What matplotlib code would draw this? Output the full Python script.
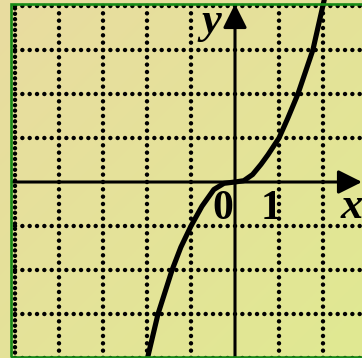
import numpy as np
import matplotlib
matplotlib.use("Agg")
import matplotlib.pyplot as plt
from matplotlib.patches import Rectangle

# grid positions (in units)
grid_x = [-5, -4, -3, -2, -1, 1, 2]
grid_y = [-4, -3, -2, -1, 1, 2, 3, 4]

# curve
curve_x = [-2.0, -1.75, -1.43, -1.23, -1.0, -0.75, -0.48, -0.25, 0.0,
           0.2, 0.4, 0.59, 0.75, 1.0, 1.2, 1.43, 1.77, 2.03]
curve_y = [-4.05, -3.0, -2.0, -1.48, -1.0, -0.55, -0.17, -0.03, 0.0,
           0.03, 0.17, 0.4, 0.62, 1.0, 1.45, 2.0, 3.0, 4.15]

tick_labels = {"0": (-0.27, -0.61), "1": (0.82, -0.61)}

# pixel layout: origin at (235, 182), 44 px per unit
W, H = 362, 358
ox, oy, unit = 235, 182, 44
xmin, xmax = -ox / unit, (W - ox) / unit
ymin, ymax = -(H - oy) / unit, oy / unit

fig = plt.figure(figsize=(W / 100, H / 100), dpi=100)
ax = fig.add_axes([0, 0, 1, 1])
ax.set_xlim(xmin, xmax)
ax.set_ylim(ymin, ymax)
ax.axis("off")

# background gradient tan -> light yellow green
c1 = np.array([233, 220, 160]) / 255
c2 = np.array([224, 233, 146]) / 255
gx, gy = np.meshgrid(np.linspace(0, 1, 200), np.linspace(0, 1, 200))
t = (gx + gy) / 2
grad = c1[None, None, :] * (1 - t[..., None]) + c2[None, None, :] * t[..., None]
ax.imshow(grad, extent=(xmin, xmax, ymin, ymax), aspect="auto", zorder=0)

# green frame (left, top, bottom)
ax.add_patch(Rectangle((11 / W, 1.5 / H), 1.2, 1 - 5 / H, transform=ax.transAxes,
                       fill=False, edgecolor="#178a17", lw=1.9, zorder=5))

# dotted grid
dot = dict(color="black", lw=3.2, dash_capstyle="round", zorder=2)
for gxv in grid_x:
    gap = 1.2 if gxv == grid_x[0] else 1.64
    ax.plot([gxv, gxv], [ymin, 4.0], linestyle=(0, (0.01, gap)), **dot)
for gyv in grid_y:
    ax.plot([grid_x[0], xmax], [gyv, gyv], linestyle=(0, (0.01, 1.64)), **dot)

# axes with arrows
arrow = dict(arrowstyle="-|>,head_length=1.0,head_width=0.5", color="black",
             lw=2.2, mutation_scale=14.5, shrinkA=0, shrinkB=0)
ax.annotate("", xy=(xmax, 0), xytext=(13 / unit + xmin, 0), arrowprops=arrow, zorder=4)
ax.annotate("", xy=(0, ymax - 4 / unit), xytext=(0, ymin), arrowprops=arrow, zorder=4)

# curve
ax.plot(curve_x, curve_y, color="black", lw=3.7, solid_capstyle="butt",
        solid_joinstyle="round", zorder=3)

# labels
serif = ["Liberation Serif", "DejaVu Serif"]
ax.text(-0.545, 3.64, "y", fontsize=32, fontweight="bold", fontstyle="italic",
        family=serif, ha="center", va="center", zorder=6)
ax.text(2.66, -0.57, "x", fontsize=32, fontweight="bold", fontstyle="italic",
        family=serif, ha="center", va="center", zorder=6)
for lab, (lx, ly) in tick_labels.items():
    ax.text(lx, ly, lab, fontsize=30, fontweight="bold", family=serif,
            ha="center", va="center", zorder=6)

fig.savefig("out.png", dpi=100)
